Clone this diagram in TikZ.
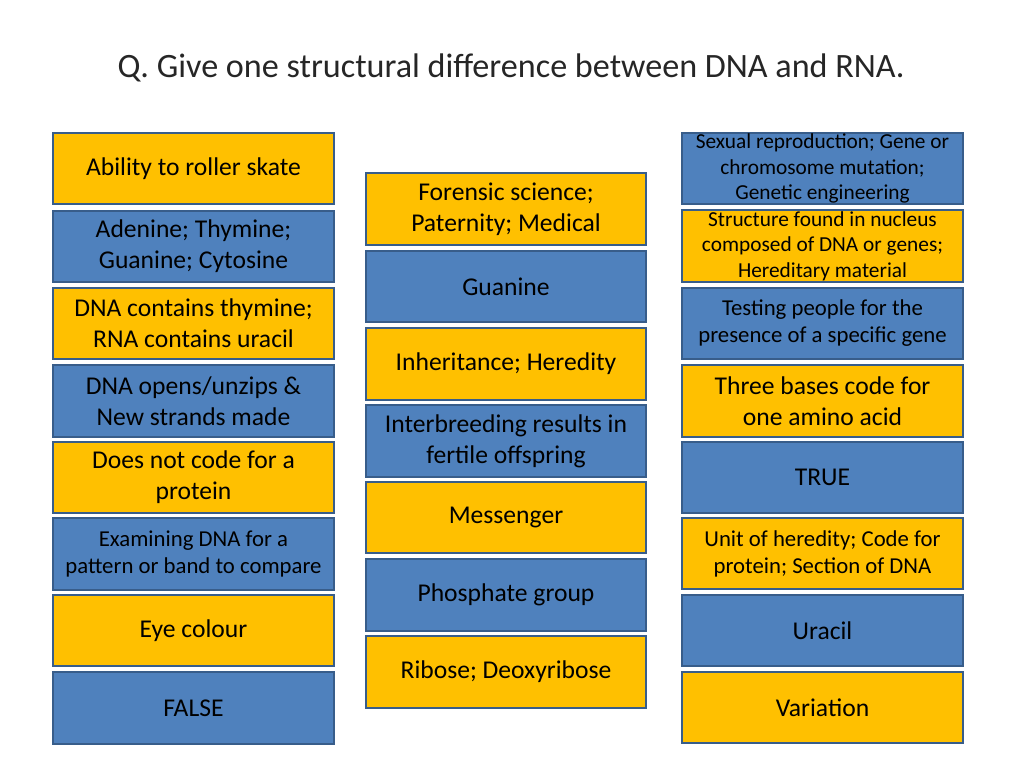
\documentclass[tikz,border=0pt]{standalone}
\usepackage{fontspec}
\setmainfont{Carlito}
\definecolor{cardyellow}{HTML}{FFC000}
\definecolor{cardblue}{HTML}{4F81BD}
\definecolor{cardline}{HTML}{385D8A}
\tikzset{
  card/.style={draw=cardline, line width=1.4pt, minimum width=197pt, minimum height=50pt,
    inner sep=0pt, align=center, font=\fontsize{18}{22}\selectfont},
  yellowcard/.style={card, fill=cardyellow},
  bluecard/.style={card, fill=cardblue},
  small/.style={font=\fontsize{16}{19}\selectfont},
  tiny/.style={font=\fontsize{15}{18}\selectfont}
}

\begin{document}
\begin{tikzpicture}[x=0.703125pt,y=-0.703125pt]
\useasboundingbox (0,0) rectangle (1024,768);
\node[text=black!85] (title) at (511,68) {\fontsize{24}{29}\selectfont Q. Give one structural difference between DNA and RNA.};
% left column
\node[yellowcard] (l1) at (193.5,168.5) {Ability to roller skate};
\node[bluecard] (l2) at (193.5,246.5) {Adenine; Thymine;\\Guanine; Cytosine};
\node[yellowcard] (l3) at (193.5,323.5) {DNA contains thymine;\\RNA contains uracil};
\node[bluecard] (l4) at (193.5,401) {DNA opens/unzips \&\\New strands made};
\node[yellowcard] (l5) at (193.5,477.5) {Does not code for a\\protein};
\node[bluecard,small] (l6) at (193.5,554) {Examining DNA for a\\pattern or band to compare};
\node[yellowcard] (l7) at (193.5,630.5) {Eye colour};
\node[bluecard] (l8) at (193.5,708) {FALSE};
% middle column
\node[yellowcard] (m1) at (506,209) {Forensic science;\\Paternity; Medical};
\node[bluecard] (m2) at (506,286.5) {Guanine};
\node[yellowcard] (m3) at (506,364) {Inheritance; Heredity};
\node[bluecard] (m4) at (506,441) {Interbreeding results in\\fertile offspring};
\node[yellowcard] (m5) at (506,517.5) {Messenger};
\node[bluecard] (m6) at (506,595) {Phosphate group};
\node[yellowcard] (m7) at (506,672) {Ribose; Deoxyribose};
% right column
\node[bluecard,tiny] (r1) at (822.5,168.5) {Sexual reproduction; Gene or\\chromosome mutation;\\Genetic engineering};
\node[yellowcard,tiny] (r2) at (822.5,246) {Structure found in nucleus\\composed of DNA or genes;\\Hereditary material};
\node[bluecard,small] (r3) at (822.5,323.5) {Testing people for the\\presence of a specific gene};
\node[yellowcard] (r4) at (822.5,401) {Three bases code for\\one amino acid};
\node[bluecard] (r5) at (822.5,477.5) {TRUE};
\node[yellowcard,small] (r6) at (822.5,553.5) {Unit of heredity; Code for\\protein; Section of DNA};
\node[bluecard] (r7) at (822.5,630.5) {Uracil};
\node[yellowcard] (r8) at (822.5,707.5) {Variation};
\end{tikzpicture}
\end{document}
